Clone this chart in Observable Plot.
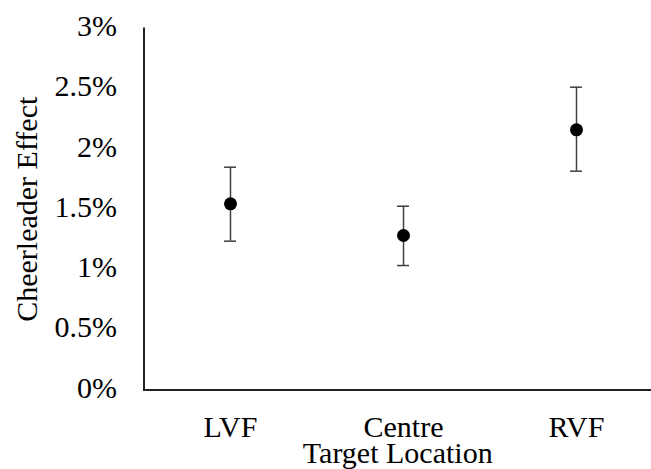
<!DOCTYPE html>
<html>
<head>
<meta charset="utf-8">
<script src="https://cdn.jsdelivr.net/npm/d3@7"></script>
<script src="https://cdn.jsdelivr.net/npm/@observablehq/plot@0.6"></script>
<style>
  html, body { margin: 0; padding: 0; background: #fff; }
  #chart svg, #chart svg text { font-family: "Liberation Serif", "DejaVu Serif", serif !important; }
</style>
</head>
<body>
<div id="chart"></div>
<script>
const categories = ["LVF", "Centre", "RVF"];
const effect = [1.545, 1.282, 2.159];
const lower = [1.235, 1.033, 1.816];
const upper = [1.849, 1.525, 2.513];
const yTicks = [0, 0.5, 1, 1.5, 2, 2.5, 3];

const rows = categories.map((c, i) => ({cat: c, v: effect[i], lo: lower[i], hi: upper[i]}));

const chart = Plot.plot({
  width: 651,
  height: 469,
  marginLeft: 143.5,
  marginRight: 0,
  marginTop: 28,
  marginBottom: 79.5,
  style: {fontFamily: "Liberation Serif", fontSize: "30px", color: "#000", background: "#fff"},
  x: {type: "band", domain: categories, range: [143.5, 662.5], paddingInner: 0.9306, paddingOuter: 0.4653},
  y: {domain: [0, 3]},
  marks: [
    Plot.axisY({ticks: yTicks, tickSize: 0, tickPadding: 27, tickFormat: d => `${d}%`,
      label: "Cheerleader Effect", labelArrow: "none", labelAnchor: "center", labelOffset: 128, dy: -2, fill: "#000", fontSize: 30}),
    Plot.axisX({tickSize: 0, tickPadding: 26, label: "Target Location", labelArrow: "none", labelAnchor: "center",
      labelOffset: 73, fill: "#000", fontSize: 30}),
    Plot.frame({anchor: "left", stroke: "#222", strokeWidth: 2}),
    Plot.ruleY([0], {stroke: "#222", strokeWidth: 2}),
    Plot.ruleX(rows, {x: "cat", y1: "lo", y2: "hi", stroke: "#404040", strokeWidth: 1.5}),
    Plot.tickY(rows, {x: "cat", y: "lo", stroke: "#404040", strokeWidth: 1.5}),
    Plot.tickY(rows, {x: "cat", y: "hi", stroke: "#404040", strokeWidth: 1.5}),
    Plot.dot(rows, {x: "cat", y: "v", r: 6.5, fill: "#000", stroke: "none"})
  ]
});
document.getElementById("chart").appendChild(chart);
</script>
</body>
</html>
